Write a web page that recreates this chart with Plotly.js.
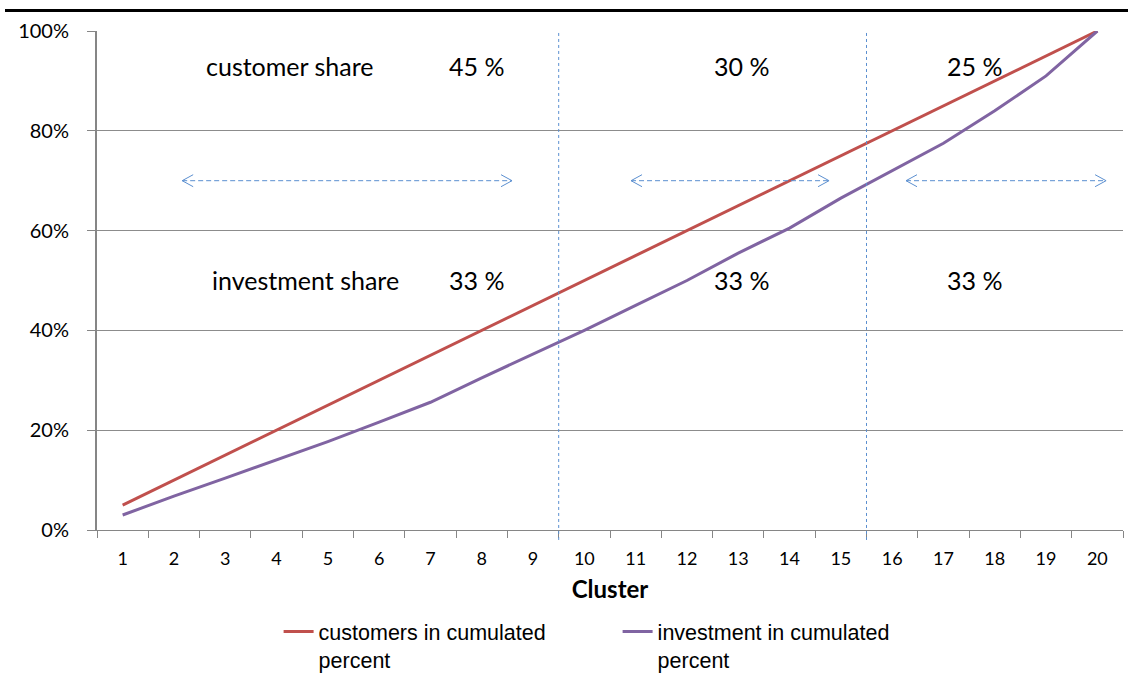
<!DOCTYPE html>
<html>
<head>
<meta charset="utf-8">
<script src="https://cdn.plot.ly/plotly-3.0.1.min.js"></script>
<style>
  html, body { margin: 0; padding: 0; background: #fff; }
  #topline { position: absolute; left: 5px; top: 9px; width: 1123px; height: 3px; background: #000; }
  #chart { width: 1128px; height: 673px; }
</style>
</head>
<body>
<div id="chart"></div>
<div id="topline"></div>
<script>
// ---- data ----
const clusters = [1,2,3,4,5,6,7,8,9,10,11,12,13,14,15,16,17,18,19,20];
const customersCum = [5,10,15,20,25,30,35,40,45,50,55,60,65,70,75,80,85,90,95,100];
const investmentCum = [3,6.8,10.4,14,17.7,21.6,25.6,30.5,35.3,40,45,50,55.5,60.5,66.5,72,77.5,84,91,100];
const seriesNames = ["customers in cumulated<br>percent", "investment in cumulated<br>percent"];
const yTickVals = [0,20,40,60,80,100];
const yTickText = ["0%","20%","40%","60%","80%","100%"];

// section boundaries (cluster units) and arrow spans
const boundaries = [9.5, 15.5];
const arrowStarts = [2.16, 10.91, 16.27];
const arrowEnds = [8.59, 14.77, 20.17];
const arrowLevel = 70;

// text labels
const rowLabels = ["customer share", "investment share"];
const rowLabelX = [4.27, 4.56];
const rowLabelY = [93, 50.2];
const customerShares = ["45 %", "30 %", "25 %"];
const investmentShares = ["33 %", "33 %", "33 %"];
const shareX = [7.9, 13.07, 17.6];

const blue = "#5b8fd0";
const annFont = {family: "Lato, 'Open Sans', sans-serif", size: 25, color: "#000"};

const traces = [
  {x: clusters, y: customersCum, name: seriesNames[0], type: "scatter", mode: "lines",
   line: {color: "#c0504d", width: 3}},
  {x: clusters, y: investmentCum, name: seriesNames[1], type: "scatter", mode: "lines",
   line: {color: "#8064a2", width: 3}}
];

const shapes = [];
boundaries.forEach(b => shapes.push({type: "line", xref: "x", yref: "paper", x0: b, x1: b, y0: -0.02, y1: 1,
  line: {color: blue, width: 1, dash: "3px,3px"}}));
for (let i = 0; i < arrowStarts.length; i++) {
  shapes.push({type: "line", xref: "x", yref: "y", x0: arrowStarts[i], x1: arrowEnds[i], y0: arrowLevel, y1: arrowLevel,
    line: {color: blue, width: 1, dash: "5px,3px"}});
  shapes.push({type: "path", xref: "x", yref: "y", xsizemode: "pixel", ysizemode: "pixel",
    xanchor: arrowStarts[i], yanchor: arrowLevel, path: "M 11 -6 L 0 0 L 11 6",
    line: {color: blue, width: 1}});
  shapes.push({type: "path", xref: "x", yref: "y", xsizemode: "pixel", ysizemode: "pixel",
    xanchor: arrowEnds[i], yanchor: arrowLevel, path: "M -11 -6 L 0 0 L -11 6",
    line: {color: blue, width: 1}});
}

const annotations = [];
rowLabels.forEach((t, i) => annotations.push({x: rowLabelX[i], y: rowLabelY[i], xref: "x", yref: "y",
  text: t, showarrow: false, font: annFont}));
customerShares.forEach((t, i) => annotations.push({x: shareX[i], y: rowLabelY[0], xref: "x", yref: "y",
  text: t, showarrow: false, font: annFont}));
investmentShares.forEach((t, i) => annotations.push({x: shareX[i], y: rowLabelY[1], xref: "x", yref: "y",
  text: t, showarrow: false, font: annFont}));

const layout = {
  width: 1128, height: 673,
  margin: {l: 97, r: 5, t: 31, b: 143, autoexpand: false},
  paper_bgcolor: "#fff", plot_bgcolor: "#fff",
  font: {family: "Lato, 'Open Sans', sans-serif", color: "#000"},
  showlegend: true,
  legend: {orientation: "h", x: 0.177, xanchor: "left", yref: "container", y: 0.092, yanchor: "top",
    valign: "top", entrywidth: 294, entrywidthmode: "pixels", tracegroupgap: 0,
    font: {family: "'Liberation Sans', Arial, sans-serif", size: 21.5, color: "#000"}, itemwidth: 30},
  xaxis: {
    range: [0.5, 20.5], tickmode: "array", tickvals: clusters, ticktext: clusters.map(String),
    ticks: "", showgrid: false, zeroline: false, showline: true, linecolor: "#868686", linewidth: 1,
    tickfont: {size: 18, family: "Lato, sans-serif"}, ticklabelstandoff: 12,
    minor: {tick0: 0.5, dtick: 1, ticks: "outside", ticklen: 7, tickcolor: "#868686", showgrid: false},
    title: {text: "<b>Cluster</b>", font: {size: 24, family: "Lato, sans-serif"}, standoff: 13},
    fixedrange: true
  },
  yaxis: {
    range: [0, 100], tickmode: "array", tickvals: yTickVals, ticktext: yTickText,
    showgrid: true, gridcolor: "#8c8c8c", gridwidth: 1, zeroline: false,
    showline: true, linecolor: "#868686", linewidth: 2, ticks: "outside", ticklen: 8, tickcolor: "#868686",
    ticklabelstandoff: 14,
    tickfont: {size: 20, family: "Lato, sans-serif"}, fixedrange: true
  },
  shapes: shapes,
  annotations: annotations
};

Plotly.newPlot("chart", traces, layout, {displayModeBar: false, staticPlot: true});
</script>
</body>
</html>
